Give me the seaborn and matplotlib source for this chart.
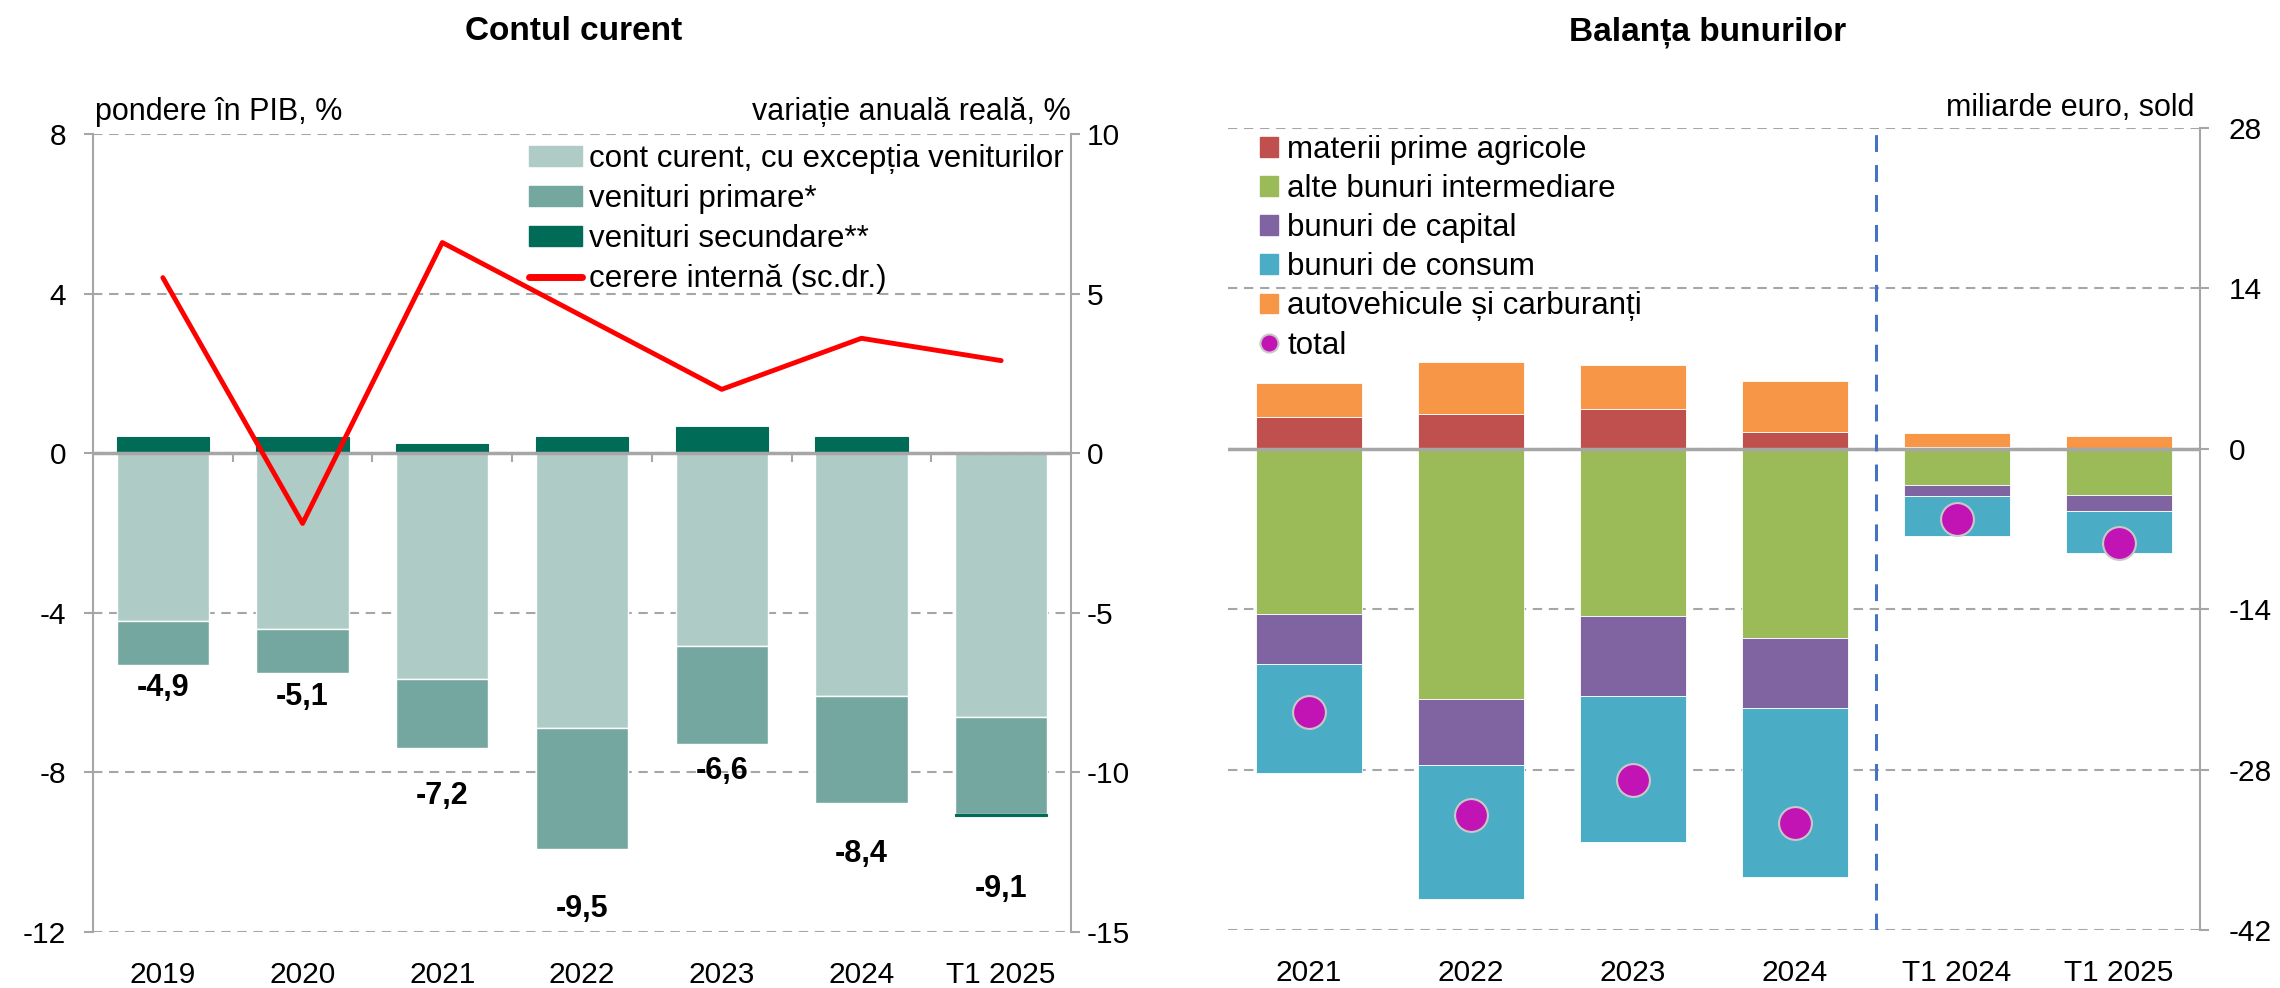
import numpy as np
import matplotlib
matplotlib.use("Agg")
import matplotlib.pyplot as plt
import seaborn as sns
from matplotlib.patches import Patch
from matplotlib.lines import Line2D

# ---------------- data: Contul curent (% of GDP) ----------------
cc_periods = ["2019", "2020", "2021", "2022", "2023", "2024", "T1 2025"]
cc_excl_income = [-4.2, -4.4, -5.67, -6.88, -4.82, -6.08, -6.6]
cc_primary_income = [-1.1, -1.1, -1.73, -3.04, -2.47, -2.69, -2.44]
cc_secondary_income = [0.4, 0.4, 0.23, 0.4, 0.66, 0.4, -0.06]
domestic_demand = [5.5, -2.2, 6.6, 4.3, 2.0, 3.6, 2.9]

# ---------------- data: Balanta bunurilor (bn EUR) ----------------
gb_periods = ["2021", "2022", "2023", "2024", "T1 2024", "T1 2025"]
gb_agri = [2.8, 3.0, 3.5, 1.5, 0.2, 0.0]
gb_intermediate = [-14.4, -21.8, -14.6, -16.5, -3.2, -4.0]
gb_capital = [-4.4, -5.8, -6.95, -6.15, -0.9, -1.4]
gb_consumer = [-9.5, -11.7, -12.8, -14.7, -3.55, -3.67]
gb_auto_fuel = [2.9, 4.55, 3.85, 4.4, 1.15, 1.1]
gb_total = [-23.0, -32.0, -28.9, -32.7, -6.1, -8.2]

# ---------------- style ----------------
sns.set_theme(style="white")
plt.rcParams['font.family'] = ['Liberation Sans', 'DejaVu Sans']
plt.rcParams['text.color'] = 'black'
FS_TICK = 21.5
FS_LAB = 22
FS_LEG = 22.5
FS_VAL = 22
FS_TITLE = 24
GRID = '#A6A6A6'
DASH = (0, (4.5, 3.2))

W, H = 2280, 988
fig = plt.figure(figsize=(W / 100, H / 100), dpi=100)

def fx(px):
    return px / W

def fy(py):
    return 1 - py / H

# ======================= LEFT CHART =======================
axL = fig.add_axes([fx(93), fy(932), fx(1071 - 93), (932 - 134) / H])
n = len(cc_periods)
x = np.arange(n)
bw = 0.66
light = np.array(cc_excl_income)
prim = np.array(cc_primary_income)
sec = np.array(cc_secondary_income)
c_light, c_mid, c_dark = '#AECBC6', '#74A79F', '#006B56'

axL.bar(x, light, bw, color=c_light, zorder=2)
axL.bar(x, prim, bw, bottom=light, color=c_mid, zorder=2)
sec_bottom = np.where(sec >= 0, 0, light + prim)
axL.bar(x, sec, bw, bottom=sec_bottom, color=c_dark, edgecolor=c_dark, linewidth=0.8, zorder=2.5)

axL.set_xlim(-0.5, n - 0.5)
axL.set_ylim(-12, 8)
axL.set_yticks([-12, -8, -4, 0, 4, 8])
axL.set_yticklabels(["-12", "-8", "-4", "0", "4", "8"], fontsize=FS_TICK)
axL.set_axisbelow(True)
axL.yaxis.grid(True, linestyle=DASH, color=GRID, linewidth=1.5)
axL.xaxis.grid(False)
axL.axhline(0, color=GRID, lw=2.5, zorder=3)
# category boundary tick marks on the zero line
axL.vlines(x[:-1] + 0.5, 0, -0.22, color=GRID, lw=1.5, zorder=3)
for s in ['top', 'bottom', 'right']:
    axL.spines[s].set_visible(False)
axL.spines['left'].set_color(GRID)
axL.spines['left'].set_linewidth(1.5)
axL.tick_params(axis='y', direction='out', length=6.5, width=1.5, color=GRID,
                labelcolor='black', pad=13, left=True)
axL.set_xticks(x)
axL.set_xticklabels(cc_periods, fontsize=FS_TICK)
axL.tick_params(axis='x', length=0, pad=21, labelcolor='black')

totals = light + prim + sec
for xi, t in zip(x, totals):
    axL.text(xi, t * 1.2, f"{t:.1f}".replace('.', ','), ha='center', va='center',
             fontsize=FS_VAL, fontweight='bold', color='black')

ax2 = axL.twinx()
ax2.set_ylim(-15, 10)
ax2.set_yticks([-15, -10, -5, 0, 5, 10])
ax2.set_yticklabels(["-15", "-10", "-5", "0", "5", "10"], fontsize=FS_TICK)
for s in ['top', 'bottom', 'left']:
    ax2.spines[s].set_visible(False)
ax2.spines['right'].set_color(GRID)
ax2.spines['right'].set_linewidth(1.5)
ax2.tick_params(axis='y', direction='out', length=6.5, width=1.5, color=GRID,
                labelcolor='black', pad=5, right=True)
ax2.grid(False)
sns.lineplot(x=x, y=domestic_demand, ax=ax2, color='#FF0000', lw=3.5, legend=False)
ax2.set_xlim(-0.5, n - 0.5)

handlesL = [Patch(color=c_light), Patch(color=c_mid), Patch(color=c_dark),
            Line2D([0], [0], color='#FF0000', lw=5)]
labelsL = ["cont curent, cu excepția veniturilor", "venituri primare*",
           "venituri secundare**", "cerere internă (sc.dr.)"]
ax2.legend(handlesL, labelsL, loc='upper left', bbox_to_anchor=(0.446, 0.987),
           frameon=False, fontsize=FS_LEG, borderpad=0, borderaxespad=0,
           handlelength=1.7, handleheight=0.6, handletextpad=0.22, labelspacing=0.32)

fig.text(fx(574), fy(32), "Contul curent", ha='center', va='center',
         fontsize=FS_TITLE, fontweight='bold')
fig.text(fx(95), fy(112), "pondere în PIB, %", ha='left', va='center', fontsize=FS_LAB)
fig.text(fx(1071), fy(112), "variație anuală reală, %", ha='right', va='center', fontsize=FS_LAB)

# ======================= RIGHT CHART =======================
axR = fig.add_axes([fx(1228), fy(930), fx(2200 - 1228), (930 - 128) / H])
m = len(gb_periods)
xr = np.arange(m)
agri = np.array(gb_agri)
auto = np.array(gb_auto_fuel)
inter = np.array(gb_intermediate)
cap = np.array(gb_capital)
cons = np.array(gb_consumer)
c_red, c_green, c_purple, c_blue, c_orange = '#C0504D', '#9BBB59', '#8064A2', '#4BACC6', '#F79646'
ekw = dict(edgecolor='#FFFFFF', linewidth=0.6, zorder=2)
axR.bar(xr, agri, bw, color=c_red, **ekw)
axR.bar(xr, auto, bw, bottom=agri, color=c_orange, **ekw)
axR.bar(xr, inter, bw, color=c_green, **ekw)
axR.bar(xr, cap, bw, bottom=inter, color=c_purple, **ekw)
axR.bar(xr, cons, bw, bottom=inter + cap, color=c_blue, **ekw)
sns.scatterplot(x=xr, y=gb_total, ax=axR, s=560, color='#C213B5', edgecolor='#C8C8C8',
                linewidth=1.5, zorder=5, legend=False)

axR.set_xlim(-0.5, m - 0.5)
axR.set_ylim(-42, 28)
axR.set_yticks([-42, -28, -14, 0, 14, 28])
axR.set_yticklabels(["-42", "-28", "-14", "0", "14", "28"], fontsize=FS_TICK)
axR.yaxis.tick_right()
axR.set_axisbelow(True)
axR.yaxis.grid(True, linestyle=DASH, color=GRID, linewidth=1.5)
axR.xaxis.grid(False)
axR.axhline(0, color=GRID, lw=2.5, zorder=3)
axR.axvline(3.5, ymin=0, ymax=0.995, color='#4472C4', lw=2.2, linestyle=(0, (5.5, 4.3)), zorder=4)
for s in ['top', 'bottom', 'left']:
    axR.spines[s].set_visible(False)
axR.spines['right'].set_color(GRID)
axR.spines['right'].set_linewidth(1.5)
axR.tick_params(axis='y', direction='out', length=6.5, width=1.5, color=GRID,
                labelcolor='black', pad=14, right=True, left=False)
axR.set_xticks(xr)
axR.set_xticklabels(gb_periods, fontsize=FS_TICK)
axR.tick_params(axis='x', length=0, pad=21, labelcolor='black')

handlesR = [Patch(color=c_red), Patch(color=c_green), Patch(color=c_purple),
            Patch(color=c_blue), Patch(color=c_orange),
            Line2D([0], [0], marker='o', linestyle='none', markersize=13,
                   markerfacecolor='#C213B5', markeredgecolor='#C8C8C8', markeredgewidth=1.5)]
labelsR = ["materii prime agricole", "alte bunuri intermediare", "bunuri de capital",
           "bunuri de consum", "autovehicule și carburanți", "total"]
axR.legend(handlesR, labelsR, loc='upper left', bbox_to_anchor=(0.033, 0.991),
           frameon=False, fontsize=FS_LEG, borderpad=0, borderaxespad=0,
           handlelength=0.58, handleheight=0.6, handletextpad=0.29, labelspacing=0.29)

fig.text(fx(1708), fy(32), "Balanța bunurilor", ha='center', va='center',
         fontsize=FS_TITLE, fontweight='bold')
fig.text(fx(2194), fy(108), "miliarde euro, sold", ha='right', va='center', fontsize=FS_LAB)

fig.savefig("out.png", dpi=100)
